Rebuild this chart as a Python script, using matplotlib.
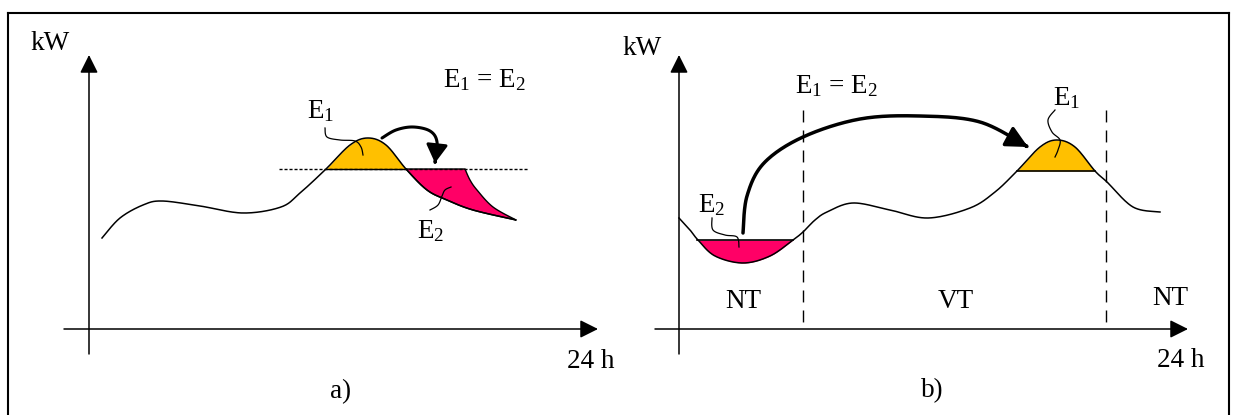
import numpy as np
import matplotlib
matplotlib.use('Agg')
import matplotlib.pyplot as plt
from matplotlib.patches import FancyArrowPatch
from matplotlib.path import Path

plt.rcParams['font.family'] = 'Liberation Serif'
plt.rcParams['mathtext.fontset'] = 'custom'
plt.rcParams['mathtext.rm'] = 'Liberation Serif'
plt.rcParams['mathtext.it'] = 'Liberation Serif:italic'

# ---------------------------------------------------------------
# dane (x, y w pikselach obrazka, y w dol)

# a) krzywa obciazenia
krzywa_a = [(102, 238), (120, 218), (143, 205), (162, 201), (200, 206), (243, 213),
            (281, 207), (300, 193), (326, 169), (350, 145), (368, 138), (386, 145),
            (406, 169), (427, 190), (447, 200), (473, 210), (516, 220)]
prog_a = 169
zakres_prog_a = (279, 529)
e1_a = (326, 406)
e2_a_gora = (406, 465)
e2_a_krawedz = [(465, 169), (470, 180), (477, 190), (493, 207), (516, 220)]
strzalka_a = [(382, 138), (396, 130), (413, 127), (430, 131), (437, 142), (435, 163)]
wasik_e1_a = [(325, 128), (327, 137), (340, 140), (355, 141), (361, 147), (363, 155)]
wasik_e2_a = [(430, 210), (438, 205), (442, 196), (445, 190), (451, 187)]

# b) krzywa obciazenia
krzywa_b = [(679, 218), (690, 230), (698, 240), (715, 256), (743, 263), (770, 256),
            (793, 240), (803, 232), (815, 220), (827, 212), (853, 203), (890, 210),
            (928, 218), (970, 208), (995, 192), (1017, 171), (1040, 147), (1057, 140),
            (1075, 147), (1095, 171), (1107, 182), (1133, 207), (1160, 212)]
e2_b = (697, 793)
prog_e2_b = 240
e1_b = (1017, 1095)
prog_e1_b = 171
granice_taryf = [803, 1106]
strzalka_b = [(743, 233), (747, 196), (764, 163), (803, 137), (860, 119),
              (920, 116), (980, 122), (1028, 147)]
wasik_e2_b = [(712, 218), (713, 230), (725, 235), (737, 237), (739, 247)]
wasik_e1_b = [(1055, 110), (1048, 120), (1052, 132), (1060, 140), (1058, 150), (1055, 157)]

# teksty: (tekst, x lewy, y linia bazowa)
napisy = [
    ('kW', 30, 50), ('kW', 622, 55),
    ('E$_1$ = E$_2$', 443, 87), ('E$_1$ = E$_2$', 795, 93),
    ('E$_1$', 307, 118), ('E$_2$', 417, 238),
    ('E$_1$', 1053, 105), ('E$_2$', 698, 212),
    ('24 h', 567, 368), ('24 h', 1157, 367),
    ('a)', 330, 398), ('b)', 921, 397),
    ('NT', 725, 308), ('VT', 938, 308), ('NT', 1152, 305),
]

POMARANCZ = '#FFC000'
ROZ = '#FF0066'


def gladko(pts, n=24):
    p = np.array(pts, float)
    pad = np.vstack([p[0], p, p[-1]])
    t = np.linspace(0, 1, n, endpoint=False)[:, None]
    out = []
    for i in range(len(p) - 1):
        p0, p1, p2, p3 = pad[i], pad[i + 1], pad[i + 2], pad[i + 3]
        out.append(0.5 * (2 * p1 + (-p0 + p2) * t + (2 * p0 - 5 * p1 + 4 * p2 - p3) * t ** 2
                          + (-p0 + 3 * p1 - 3 * p2 + p3) * t ** 3))
    out.append(p[-1:])
    return np.vstack(out)


fig = plt.figure(figsize=(12.34, 4.15), dpi=100)
ax = fig.add_axes([0, 0, 1, 1])
ax.set_xlim(0, 1234)
ax.set_ylim(415, 0)
ax.axis('off')

# ramka
ax.plot([8, 1229], [13, 13], color='black', lw=1.5)
ax.plot([8, 8], [13, 415], color='black', lw=1.5)
ax.plot([1229, 1229], [13, 415], color='black', lw=1.5)


def os_xy(x0, y0, xend, ybot, ytop, xstart):
    for a, b in [((x0, ybot), (x0, ytop)), ((xstart, y0), (xend, y0))]:
        ax.add_patch(FancyArrowPatch(a, b, arrowstyle='-|>,head_length=11,head_width=5.5',
                                     mutation_scale=1, lw=1.1, color='black',
                                     shrinkA=0, shrinkB=0))


os_xy(89, 329, 598, 354, 55, 64)
os_xy(679, 329, 1188, 354, 55, 655)

# ----------------- a)
ka = gladko(krzywa_a)
ax.plot([zakres_prog_a[0], zakres_prog_a[1]], [prog_a, prog_a], color='black', lw=1,
        linestyle=(0, (2.2, 1.4)))
m = (ka[:, 0] >= e1_a[0]) & (ka[:, 0] <= e1_a[1])
ax.fill_between(ka[m, 0], ka[m, 1], prog_a, color=POMARANCZ, lw=0)
ax.plot(e1_a, [prog_a, prog_a], color='black', lw=1)

kraw = gladko(e2_a_krawedz)
m2 = ka[:, 0] >= e2_a_gora[0]
wielokat = np.vstack([[[e2_a_gora[0], prog_a]], kraw, ka[m2][::-1]])
ax.fill(wielokat[:, 0], wielokat[:, 1], facecolor=ROZ, edgecolor='black', lw=1)
ax.plot(ka[:, 0], ka[:, 1], color='black', lw=1.1)

ax.add_patch(FancyArrowPatch(path=Path(gladko(strzalka_a)),
                             arrowstyle='-|>,head_length=11,head_width=6.5',
                             mutation_scale=1, lw=2.2, color='black', shrinkA=0, shrinkB=0))

# ----------------- b)
for xg in granice_taryf:
    ax.plot([xg, xg], [110, 329], color='black', lw=1, linestyle=(0, (8.6, 5.8)))

kb = gladko(krzywa_b)
m = (kb[:, 0] >= e2_b[0]) & (kb[:, 0] <= e2_b[1])
ax.fill_between(kb[m, 0], kb[m, 1], prog_e2_b, color=ROZ, lw=0)
ax.plot(e2_b, [prog_e2_b, prog_e2_b], color='black', lw=1.2)
m = (kb[:, 0] >= e1_b[0]) & (kb[:, 0] <= e1_b[1])
ax.fill_between(kb[m, 0], kb[m, 1], prog_e1_b, color=POMARANCZ, lw=0)
ax.plot(e1_b, [prog_e1_b, prog_e1_b], color='black', lw=1.2)
ax.plot(kb[:, 0], kb[:, 1], color='black', lw=1.1)

ax.add_patch(FancyArrowPatch(path=Path(gladko(strzalka_b)),
                             arrowstyle='-|>,head_length=13,head_width=6.5',
                             mutation_scale=1, lw=2.5, color='black', shrinkA=0, shrinkB=0))

# wasiki do etykiet
for w in [wasik_e1_a, wasik_e2_a, wasik_e2_b, wasik_e1_b]:
    g = gladko(w)
    ax.plot(g[:, 0], g[:, 1], color='black', lw=0.9)

for tekst, x, y in napisy:
    ax.text(x, y, tekst, fontsize=19.5, ha='left', va='baseline')

fig.savefig('out.png', dpi=100)
